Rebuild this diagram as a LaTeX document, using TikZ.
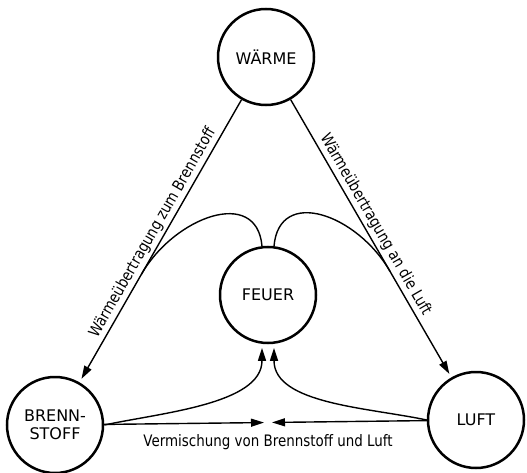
\documentclass[tikz,border=0pt]{standalone}
\usepackage{fontspec}
\setmainfont{DejaVu Sans}
\newfontfamily\condfont[FakeStretch=0.85]{DejaVu Sans}
\usetikzlibrary{arrows.meta,calc}
\tikzset{lbl/.style={rectangle, draw=none, fill=none, minimum size=0pt,
  inner sep=2pt, font=\condfont\fontsize{15.8}{18}\selectfont}}

\begin{document}
\begin{tikzpicture}[x=1pt, y=1pt, every node/.style={circle, draw,
  line width=2.5pt, minimum size=96pt, inner sep=0pt, align=center,
  font=\fontsize{16}{18}\selectfont},
  >={Triangle[length=13pt, width=8pt]}, line width=1.4pt, shorten >=4pt]
  \useasboundingbox (0, 0) rectangle (527, 472);
  \node (waerme) at (266, 415) {WÄRME};
  \node (feuer) at (268, 177) {FEUER};
  \node (brennstoff) at (55, 47) {BRENN-\\STOFF};
  \node (luft) at (476, 52) {LUFT};
  \coordinate (mix) at (268, 49.5);
  \coordinate (pB) at ($(waerme)!0.6!(brennstoff)$);
  \coordinate (pL) at ($(waerme)!0.6!(luft)$);
  % heat transfer from the top
  \draw[->] (waerme) --
    node[lbl, sloped, above, pos=0.49] {Wärmeübertragung zum Brennstoff} (brennstoff);
  \draw[->] (waerme) --
    node[lbl, sloped, above, pos=0.47] {Wärmeübertragung an die Luft} (luft);
  % curves leaving the fire, joining the heat lines
  \draw (feuer.97) .. controls +(95:60) and +(60.2:70) .. (pB);
  \draw (feuer.83) .. controls +(85:60) and +(120:70) .. (pL);
  % mixing at the bottom
  \draw[->] (brennstoff) -- (mix);
  \draw[->] (luft) -- (mix);
  \draw[->] (brennstoff.east) .. controls +(12:60) and +(-90:60) .. (feuer.263);
  \draw[->] (luft.west) .. controls +(168:60) and +(-90:60) .. (feuer.277);
  \node[lbl] (mixlbl) at (268, 30) {Vermischung von Brennstoff und Luft};
\end{tikzpicture}
\end{document}
